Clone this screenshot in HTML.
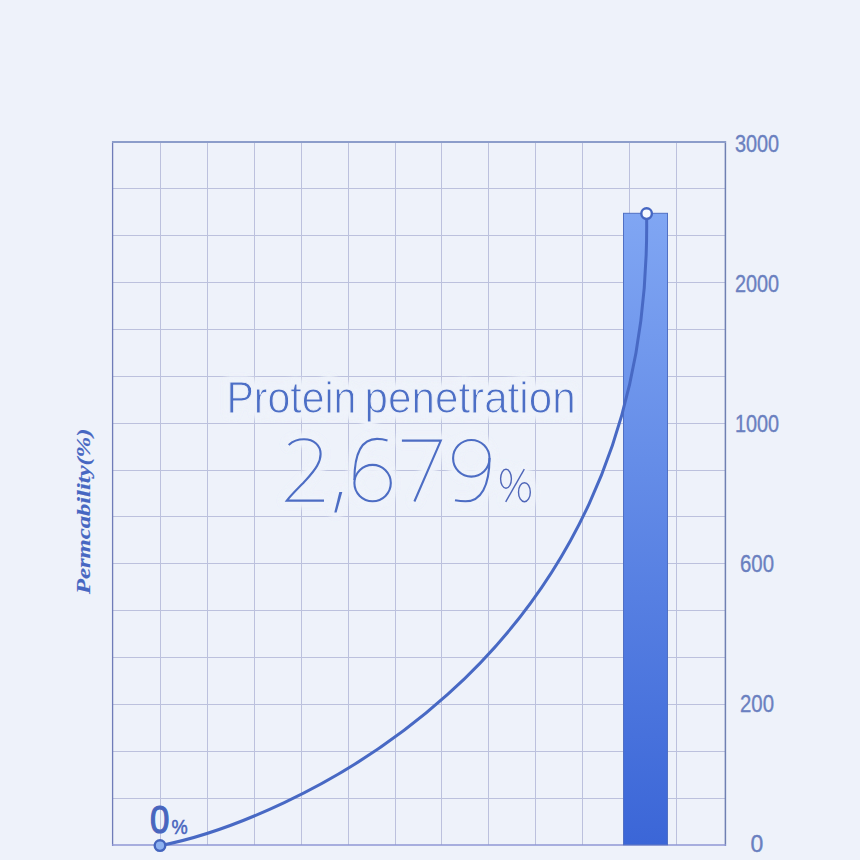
<!DOCTYPE html>
<html><head><meta charset="utf-8">
<style>
html,body{margin:0;padding:0;width:860px;height:860px;overflow:hidden;background:#eef2fa;}
svg{position:absolute;left:0;top:0;display:block}
</style></head>
<body>
<svg width="860" height="860" viewBox="0 0 860 860">
<defs>
<linearGradient id="bar" x1="0" y1="0" x2="0" y2="1">
<stop offset="0" stop-color="#80a6f3"/>
<stop offset="1" stop-color="#3b66d7"/>
</linearGradient>
<filter id="glow" x="-10%" y="-40%" width="120%" height="180%" color-interpolation-filters="sRGB">
<feMorphology in="SourceAlpha" operator="dilate" radius="3" result="d"/>
<feGaussianBlur in="d" stdDeviation="3.5" result="b"/>
<feFlood flood-color="#eef2fa" flood-opacity="1"/>
<feComposite in2="b" operator="in" result="g"/>
<feMerge><feMergeNode in="g"/><feMergeNode in="g"/><feMergeNode in="g"/><feMergeNode in="SourceGraphic"/></feMerge>
</filter>
</defs>
<rect x="0" y="0" width="860" height="860" fill="#eef2fa"/>
<g stroke="#bcc1dd" stroke-width="1" fill="none">
<path d="M160.5 142V845M207.5 142V845M254.5 142V845M301.5 142V845M348.5 142V845M395.5 142V845M441.5 142V845M488.5 142V845M535.5 142V845M582.5 142V845M629.5 142V845M676.5 142V845"/>
<path d="M112 188.5H725M112 235.5H725M112 282.5H725M112 329.5H725M112 376.5H725M112 423.5H725M112 470.5H725M112 516.5H725M112 563.5H725M112 610.5H725M112 657.5H725M112 704.5H725M112 751.5H725M112 798.5H725"/>
</g>
<g fill="none">
<path d="M112.6 141V846" stroke="#6f7cb8" stroke-width="1.3"/>
<path d="M725.4 141V846" stroke="#6f80b2" stroke-width="1.5"/>
<path d="M112 142H726" stroke="#8c9dca" stroke-width="2"/>
<path d="M112 845H726" stroke="#8f97d4" stroke-width="1.7"/>
</g>
<rect x="623.5" y="213.3" width="44" height="631.5" fill="url(#bar)" stroke="#5070c4" stroke-width="1"/>
<path d="M160 845.6C272.07 824.26 653.5 673.96 646.6 213.6" fill="none" stroke="#4869c4" stroke-width="3"/>
<circle cx="646.6" cy="213.6" r="5.3" fill="#f5f9ff" stroke="#4566c2" stroke-width="2.4"/>
<circle cx="160" cy="845.6" r="5.3" fill="#8db1f0" stroke="#4465be" stroke-width="2.4"/>
<!-- big number -->
<g fill="none" stroke="#4d6dc4" stroke-width="2.1" stroke-linecap="butt" stroke-linejoin="miter" filter="url(#glow)">
<path d="M288.7 445C293 441 298 439.3 304 439.3C314 439.3 320.6 445.5 320.6 454C320.6 462 316 469 306 480C300 486.5 292 494 286.8 500.6H324"/>
<path d="M339.3 492.1H342.3L336.6 512.5H334.3Z" fill="#4d6dc4" stroke="none"/>
<path d="M387.5 440.4C384 439.4 380.5 438.9 377 438.9C361 438.9 354.4 454 354.4 480"/>
<ellipse cx="372.6" cy="483.1" rx="18.2" ry="18.2"/>
<path d="M401.9 440.6H440.8L414.4 501.5"/>
<ellipse cx="471.3" cy="458.3" rx="18.2" ry="18.3"/>
<path d="M489.5 458C489.5 486 481 501.3 465.5 501.3C461 501.3 458 500.8 455 500.2"/>
<g stroke-width="1.4" stroke="#4e65b8">
<ellipse cx="506" cy="478.8" rx="5.4" ry="9.5"/>
<ellipse cx="524.4" cy="492.2" rx="5.9" ry="9.5"/>
<path d="M524.3 469.2L505.7 501.8"/>
</g>
</g>
<g filter="url(#glow)" font-family="Liberation Sans" font-size="44" fill="#4d6fc6" stroke="#eef2fa" stroke-width="1">
<text x="226.4" y="412.9" textLength="130" lengthAdjust="spacingAndGlyphs">Protein</text>
<text x="364.6" y="412.9" textLength="211" lengthAdjust="spacingAndGlyphs">penetration</text>
</g>
<text x="150.1" y="833.3" font-family="Liberation Sans" font-size="39" fill="#4865be" stroke="#4865be" stroke-width="1.2" textLength="19.4" lengthAdjust="spacingAndGlyphs">0</text>
<text x="171.4" y="833.5" font-family="Liberation Sans" font-size="20" fill="#4865be" stroke="#4865be" stroke-width="0.5" textLength="16.2" lengthAdjust="spacingAndGlyphs">%</text>
<g font-family="Liberation Sans" font-size="23" fill="#6a80c0" stroke="#6a80c0" stroke-width="0.35" text-anchor="middle" lengthAdjust="spacingAndGlyphs">
<text x="757" y="152" textLength="44.2" lengthAdjust="spacingAndGlyphs">3000</text>
<text x="757" y="292" textLength="44.2" lengthAdjust="spacingAndGlyphs">2000</text>
<text x="757" y="432" textLength="44.2" lengthAdjust="spacingAndGlyphs">1000</text>
<text x="757" y="572" textLength="34" lengthAdjust="spacingAndGlyphs">600</text>
<text x="757" y="712" textLength="34" lengthAdjust="spacingAndGlyphs">200</text>
<text x="757" y="852">0</text>
</g>
<text transform="translate(90 594) rotate(-90)" font-family="Liberation Serif" font-weight="bold" font-style="italic" font-size="19.5" fill="#4767c2" stroke="#4767c2" stroke-width="0.15" textLength="165.5" lengthAdjust="spacingAndGlyphs">Permcability(%)</text>
</svg>
</body></html>
